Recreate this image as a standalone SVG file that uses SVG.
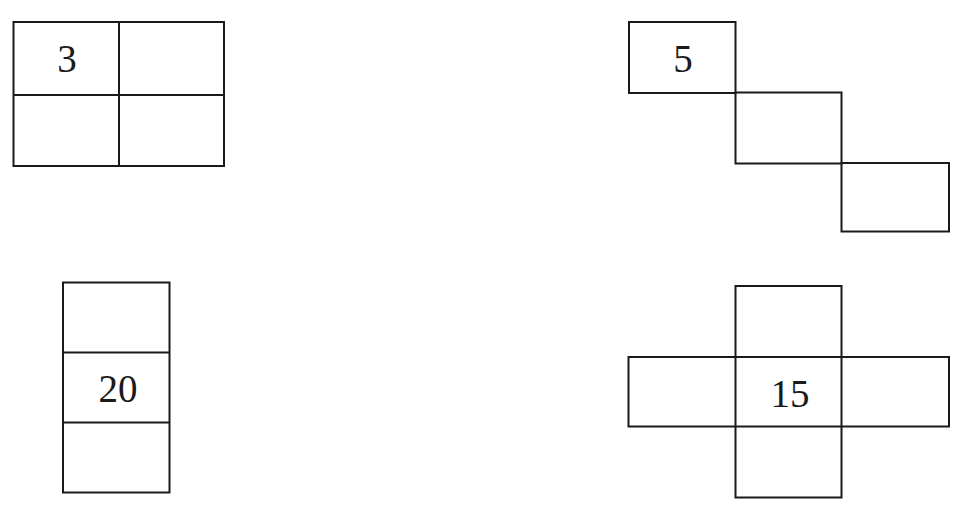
<svg xmlns="http://www.w3.org/2000/svg" width="962" height="516" viewBox="0 0 962 516">
<style>
.c{fill:none;stroke:#1a1a1a;stroke-width:2}
.t{font-family:"Liberation Serif","Times New Roman",serif;font-size:39px;fill:#1a1a1a;text-anchor:middle}
</style>
<rect width="962" height="516" fill="#fff"/>
<g id="shape-a">
<rect class="c" x="13.5" y="22" width="210.5" height="144"/>
<line class="c" x1="119" y1="22" x2="119" y2="166"/>
<line class="c" x1="13.5" y1="95" x2="224" y2="95"/>
<text class="t" x="67" y="72">3</text>
</g>
<g id="shape-b">
<rect class="c" x="629" y="22" width="106.5" height="71"/>
<rect class="c" x="735.5" y="92.5" width="106" height="71"/>
<rect class="c" x="841.5" y="163" width="107.5" height="68.5"/>
<text class="t" x="683" y="72">5</text>
</g>
<g id="shape-c">
<rect class="c" x="63" y="282.5" width="106.5" height="210"/>
<line class="c" x1="63" y1="352.5" x2="169.5" y2="352.5"/>
<line class="c" x1="63" y1="422.5" x2="169.5" y2="422.5"/>
<text class="t" x="118" y="402">20</text>
</g>
<g id="shape-d">
<rect class="c" x="735.5" y="286" width="106" height="211.5"/>
<rect class="c" x="628.5" y="357" width="320.5" height="69.5"/>
<text class="t" x="790" y="407">15</text>
</g>
</svg>
